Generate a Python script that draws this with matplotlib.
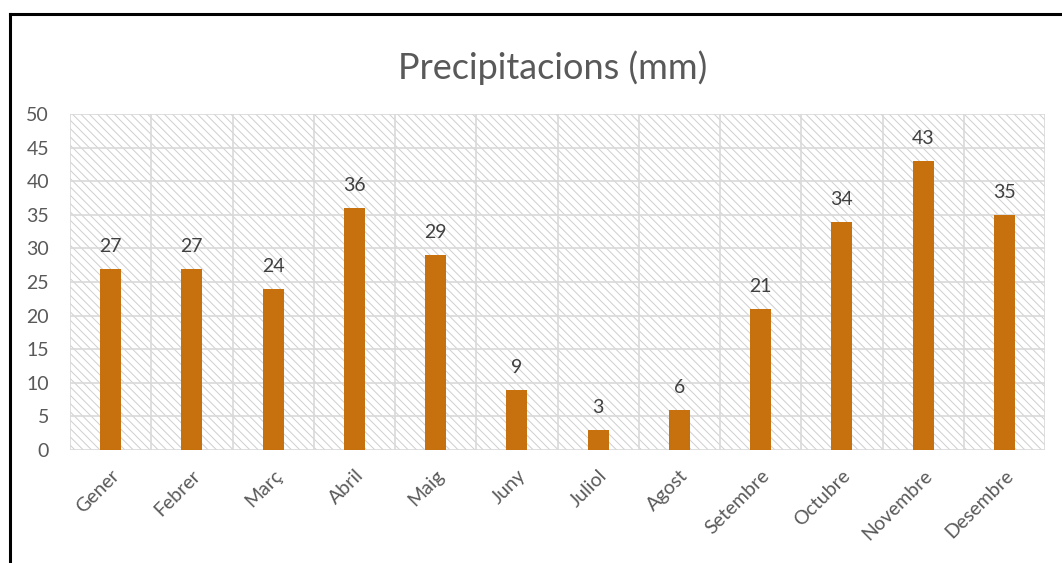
import numpy as np
import matplotlib
matplotlib.use("Agg")
import matplotlib.pyplot as plt
import matplotlib.patches as patches
from matplotlib.lines import Line2D

months = ["Gener", "Febrer", "Març", "Abril", "Maig", "Juny", "Juliol",
          "Agost", "Setembre", "Octubre", "Novembre", "Desembre"]
rain = [27, 27, 24, 36, 29, 9, 3, 6, 21, 34, 43, 35]
yticks = [0, 5, 10, 15, 20, 25, 30, 35, 40, 45, 50]

plt.rcParams['font.family'] = ['Lato', 'DejaVu Sans']
plt.rcParams['hatch.color'] = '#cfcfcf'
plt.rcParams['hatch.linewidth'] = 0.7

W, H = 1062, 563
fig = plt.figure(figsize=(W / 100, H / 100), dpi=100)
ax = fig.add_axes([70 / W, 1 - 450 / H, (1045 - 70) / W, (450 - 114) / H])

# hatched plot area background
ax.add_patch(patches.Rectangle((0, 0), 1, 1, transform=ax.transAxes,
                               facecolor='white', edgecolor='#cfcfcf',
                               linewidth=0, hatch='\\\\\\\\', zorder=0))

x = np.arange(len(months))
ax.bar(x, rain, width=0.26, color='#C6700E', zorder=3)

for xi, v in zip(x, rain):
    ax.annotate(str(v), (xi, v), xytext=(0, 10), textcoords='offset points',
                ha='center', va='bottom', fontsize=14, color='#404040')

ax.set_xlim(-0.5, len(months) - 0.5)
ax.set_ylim(0, 50)
ax.set_yticks(yticks)
ax.set_xticks(x)
ax.set_xticks(np.arange(-0.5, len(months)), minor=True)
ax.set_xticklabels(months, rotation=45, ha='right', rotation_mode='anchor')

ax.grid(axis='y', which='major', color='#d9d9d9', linewidth=1.2, zorder=1)
ax.grid(axis='x', which='minor', color='#d9d9d9', linewidth=1.2, zorder=1)
ax.set_axisbelow(True)
for s in ax.spines.values():
    s.set_visible(False)
ax.tick_params(axis='both', which='both', length=0, colors='#595959', labelsize=14)
ax.tick_params(axis='y', pad=15)
ax.tick_params(axis='x', pad=12)

fig.text(553 / W, 1 - 68 / H, "Precipitacions (mm)", ha='center', va='center',
         fontsize=26, color='#595959')

# black frame lines at top and left
fig.add_artist(Line2D([9.5 / W, 1], [1 - 14 / H, 1 - 14 / H], color='black',
                      linewidth=2.2, transform=fig.transFigure))
fig.add_artist(Line2D([9.5 / W, 9.5 / W], [0, 1 - 14 / H], color='black',
                      linewidth=2.2, transform=fig.transFigure))

fig.savefig("out.png", dpi=100)
